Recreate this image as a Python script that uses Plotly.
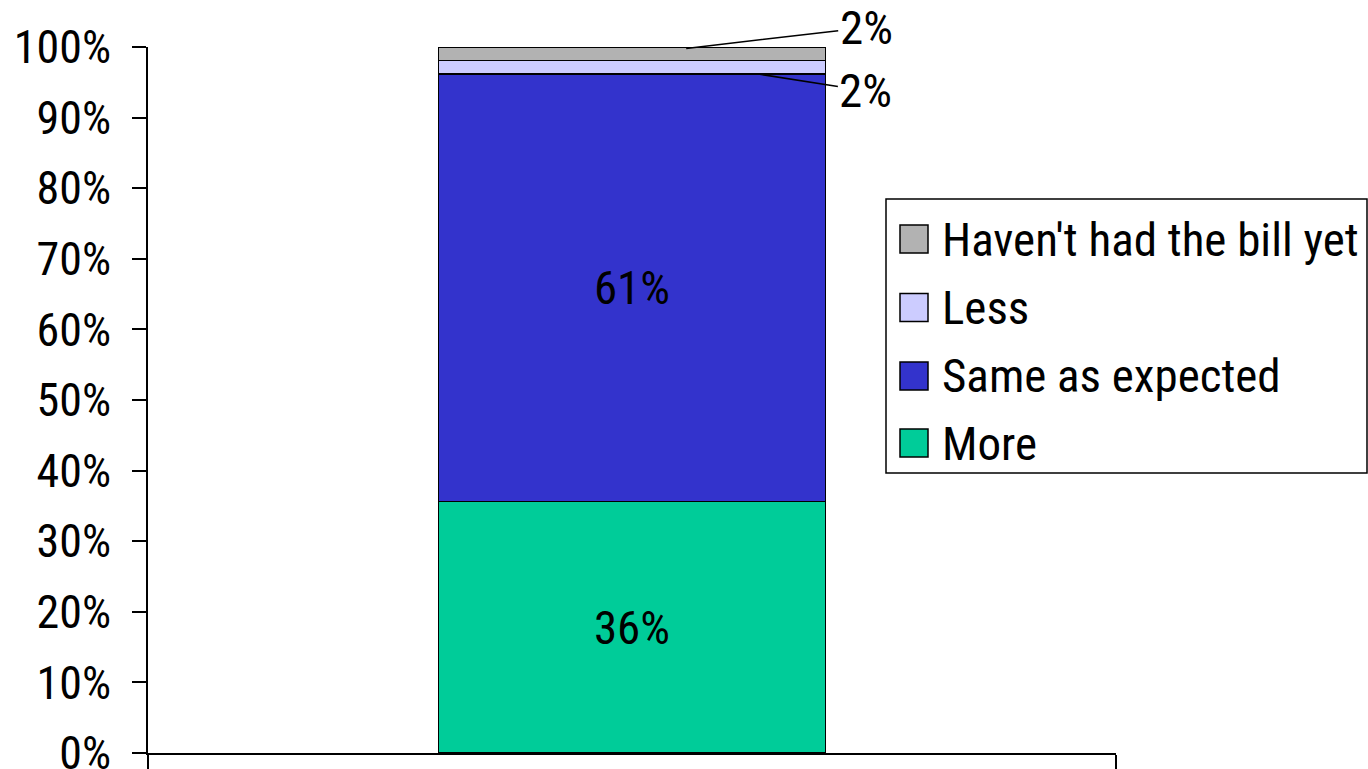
import plotly.graph_objects as go

categories = [""]
series_names = ["More", "Same as expected", "Less", "Haven't had the bill yet"]
more = [35.6]
same = [60.6]
less = [1.9]
havent = [1.9]
colors = ["#00CC99", "#3333CC", "#CCCCFF", "#B2B2B2"]
tick_vals = [0, 10, 20, 30, 40, 50, 60, 70, 80, 90, 100]
tick_text = [f"{v}%" for v in tick_vals]

FONT = "Liberation Sans Narrow, Arial Narrow, Roboto Condensed, Liberation Sans, sans-serif"
FS_TICK = 46
FS_BAR = 47
FS_LEG = 47

W, H = 1368, 769
L, R, T, B = 148, 1368 - 1116, 47, 769 - 753
pw, ph = W - L - R, H - T - B

def px(x):
    return (x - L) / pw

def py(y):
    return (H - B - y) / ph

fig = go.Figure()
series_values = [more, same, less, havent]
for name, vals, col in zip(series_names, series_values, colors):
    show_text = vals[0] > 10
    fig.add_trace(go.Bar(
        x=[0], y=vals, name=name, width=0.4,
        marker=dict(color=col, line=dict(color="black", width=1.5)),
        text=[f"{round(v)}%" for v in vals] if show_text else None,
        textposition="inside" if show_text else "none",
        insidetextanchor="middle",
        textfont=dict(family=FONT, size=FS_BAR, color="black"),
        showlegend=False,
    ))

# small-segment labels with leader lines
cum_less_bottom = more[0] + same[0]
cum_total = more[0] + same[0] + less[0] + havent[0]
fig.add_annotation(x=0.056, y=cum_total - 0.2, xref="x", yref="y",
                   text=f"{round(havent[0])}%", showarrow=True, arrowhead=0,
                   arrowwidth=1.5, arrowcolor="black", ax=180, ay=-21,
                   font=dict(family=FONT, size=FS_BAR, color="black"))
fig.add_annotation(x=0.129, y=cum_less_bottom, xref="x", yref="y",
                   text=f"{round(less[0])}%", showarrow=True, arrowhead=0,
                   arrowwidth=1.5, arrowcolor="black", ax=109, ay=17,
                   font=dict(family=FONT, size=FS_BAR, color="black"))

# manual legend
fig.add_shape(type="rect", xref="paper", yref="paper",
              x0=px(886), x1=px(1367), y0=py(473), y1=py(199),
              line=dict(color="black", width=1.5), fillcolor="white")
legend_order = list(reversed(list(zip(series_names, colors))))
row_centers = [239, 307.5, 376, 443]
for (name, col), cy in zip(legend_order, row_centers):
    fig.add_shape(type="rect", xref="paper", yref="paper",
                  x0=px(900), x1=px(928), y0=py(cy + 14), y1=py(cy - 14),
                  line=dict(color="black", width=1.5), fillcolor=col)
    fig.add_annotation(x=px(940), y=py(cy), xref="paper", yref="paper",
                       text=name, showarrow=False, xanchor="left", yanchor="middle",
                       font=dict(family=FONT, size=FS_LEG, color="black"))

fig.update_layout(
    width=W, height=H, barmode="stack",
    margin=dict(l=L, r=R, t=T, b=B, pad=0, autoexpand=False),
    paper_bgcolor="white", plot_bgcolor="white",
    showlegend=False,
    font=dict(family=FONT, size=FS_TICK, color="black"),
)
fig.update_xaxes(type="linear", range=[-0.5, 0.5], showgrid=False, zeroline=False,
                 showline=True, linecolor="black", linewidth=1.5,
                 tickmode="array", tickvals=[-0.5, 0.5], ticktext=["", ""],
                 ticks="outside", ticklen=15, tickwidth=1.5, tickcolor="black",
                 showticklabels=False, automargin=False)
fig.update_yaxes(range=[0, 100], showgrid=False, zeroline=False,
                 showline=True, linecolor="black", linewidth=1.5,
                 tickmode="array", tickvals=tick_vals, ticktext=tick_text,
                 ticks="outside", ticklen=14, tickwidth=1.5, tickcolor="black",
                 ticklabelstandoff=12, automargin=False, ticklabeloverflow="allow",
                 tickfont=dict(family=FONT, size=FS_TICK, color="black"))

fig.write_html("out.html", config={"displayModeBar": False},
               post_script="document.body.style.margin='0';")
